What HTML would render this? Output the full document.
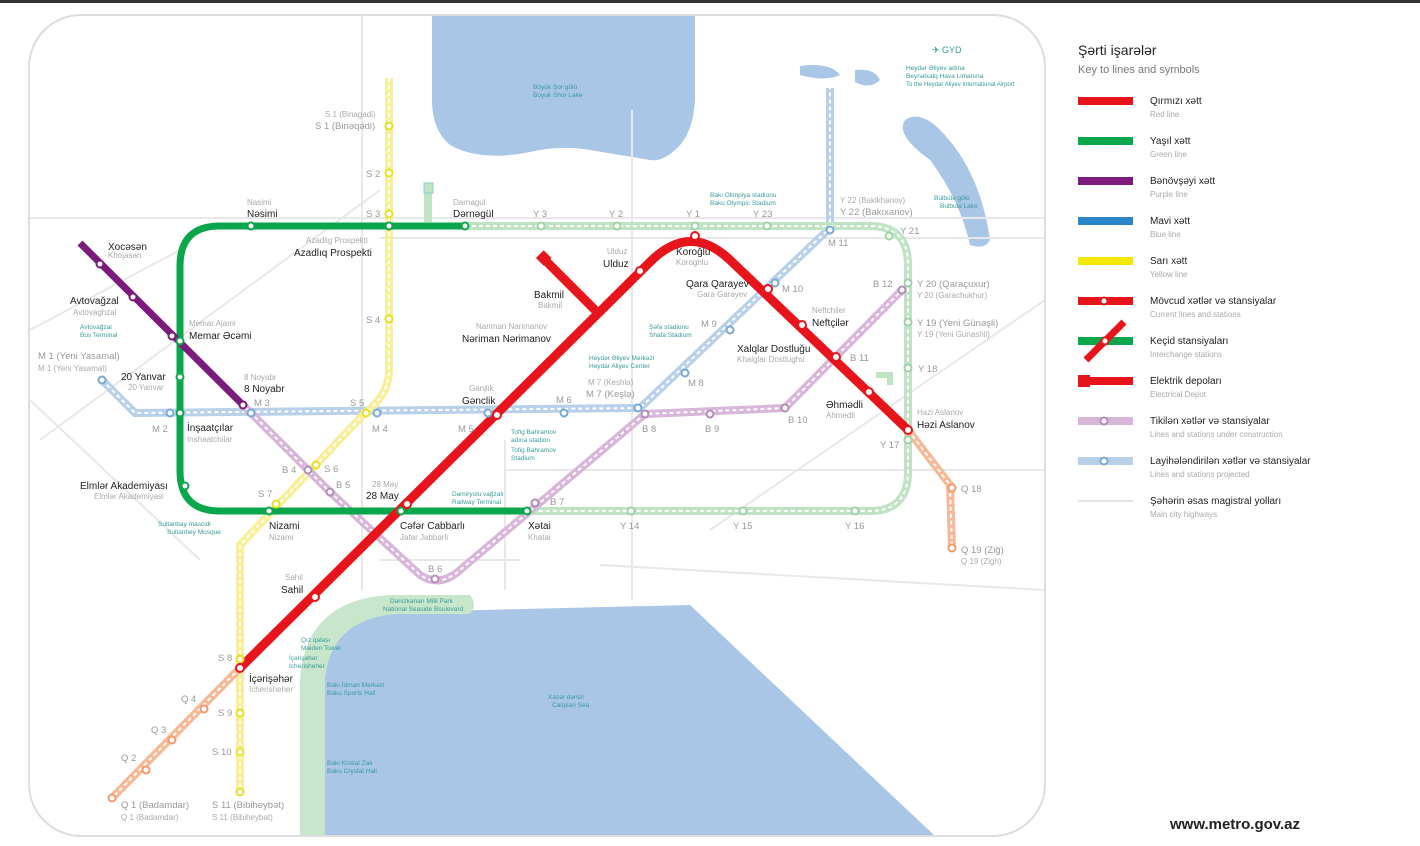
<!DOCTYPE html>
<html><head><meta charset="utf-8"><style>
html,body{margin:0;padding:0;background:#fff;}
svg{display:block;font-family:"Liberation Sans",sans-serif;}
.b{font-size:10px;fill:#222;}
.s{font-size:8px;fill:#aaa;}
.l{font-size:9.5px;fill:#999;}
.t{font-size:6.5px;fill:#3a9a9a;}
</style></head><body>
<svg width="1420" height="846" viewBox="0 0 1420 846" xmlns="http://www.w3.org/2000/svg">
<defs><clipPath id="fr"><rect x="29" y="15" width="1016" height="821" rx="52"/></clipPath></defs>
<rect x="0" y="0" width="1420" height="3" fill="#333"/>
<rect x="29" y="15" width="1016" height="821" rx="52" fill="#fff"/>
<g clip-path="url(#fr)">
<path d="M432 15 L695 15 L695 100 Q693 135 675 150 Q662 162 650 160 Q620 155 590 150 Q560 145 530 152 Q480 162 450 145 Q432 130 432 100 Z" fill="#a9c6e6"/>
<path d="M325 836 L325 660 Q330 615 400 612 L690 605 L935 836 Z" fill="#a9c6e6"/>
<path d="M300 836 L300 680 Q305 600 390 595 L470 595 Q478 605 470 614 L395 614 Q330 620 325 680 L325 836 Z" fill="#c8e6cc"/>
<path d="M905 120 Q920 110 940 130 Q980 170 990 240 Q985 250 970 245 Q960 200 930 160 Q895 135 905 120 Z" fill="#a9c6e6"/>
<path d="M800 66 Q830 62 840 75 Q825 82 800 75 Z M855 70 Q875 68 880 80 Q870 90 855 82 Z" fill="#a9c6e6"/>
</g>
<rect x="29" y="15" width="1016" height="821" rx="52" fill="none" stroke="#ddd" stroke-width="2"/>
<g stroke="#e8e8e8" stroke-width="2" fill="none">
<path d="M362 15 L362 590"/><path d="M632 110 L632 600"/><path d="M30 218 L1045 218"/><path d="M380 238 L1045 238"/>
<path d="M40 440 L380 190"/><path d="M30 400 L200 560"/><path d="M505 440 L505 590"/><path d="M505 470 L1045 470"/>
<path d="M710 530 L1045 300"/><path d="M600 565 L1045 590"/><path d="M380 560 L520 560"/><path d="M30 330 L180 250"/>
</g>
<g fill="none">
<path d="M102 380 L135 413 L640 408 L830 228 L830 88" stroke="#b9d0ea" stroke-width="8"/>
<path d="M102 380 L135 413 L640 408 L830 228 L830 88" stroke="#fff" stroke-width="2" stroke-dasharray="4 3"/>
<path d="M389 78 L389 370 Q389 395 365 413 L240 545 L240 792" stroke="#f7ef9a" stroke-width="8"/>
<path d="M389 78 L389 370 Q389 395 365 413 L240 545 L240 792" stroke="#fff" stroke-width="2" stroke-dasharray="4 3"/>
<path d="M465 226 L870 226 Q908 226 908 265 L908 472 Q908 511 870 511 L527 511" stroke="#bfe3c3" stroke-width="8"/>
<path d="M465 226 L870 226 Q908 226 908 265 L908 472 Q908 511 870 511 L527 511" stroke="#fff" stroke-width="2" stroke-dasharray="4 3"/>
<path d="M428 184 L428 222" stroke="#bfe3c3" stroke-width="8"/>
<path d="M876 375 L890 375 L890 385" stroke="#bfe3c3" stroke-width="6"/>
<path d="M245 407 L330 492 L420 575 Q440 588 460 570 L645 414 L785 408 L902 290" stroke="#d8b6da" stroke-width="8"/>
<path d="M245 407 L330 492 L420 575 Q440 588 460 570 L645 414 L785 408 L902 290" stroke="#fff" stroke-width="2" stroke-dasharray="4 3"/>
<path d="M908 430 L950 485 L952 548 M240 668 L112 798" stroke="#f7b896" stroke-width="8"/>
<path d="M908 430 L950 485 L952 548 M240 668 L112 798" stroke="#fff" stroke-width="2" stroke-dasharray="4 3"/>
<path d="M465 226 L220 226 Q180 226 180 266 L180 471 Q180 511 220 511 L527 511" stroke="#0aa64c" stroke-width="7"/>
<path d="M80 243 L245 407" stroke="#7d1a7d" stroke-width="7"/>
<path d="M240 668 L650 262 Q690 222 730 260 L908 430" stroke="#e8141c" stroke-width="9"/>
<path d="M543 258 L598 313" stroke="#e8141c" stroke-width="9"/>
</g>
<rect x="538" y="252" width="11" height="11" fill="#e8141c" transform="rotate(45 543 258)"/>
<rect x="424" y="183" width="9" height="10" fill="#bfe3c3" stroke="#8cc" />
<g fill="#fff" stroke-width="2">
<g stroke="#0aa64c"><circle cx="251" cy="226" r="3.5"/><circle cx="389" cy="226" r="3.5"/><circle cx="465" cy="226" r="3.5"/><circle cx="180" cy="341" r="3.5"/><circle cx="180" cy="377" r="3.5"/><circle cx="180" cy="413" r="3.5"/><circle cx="185" cy="486" r="3.5"/><circle cx="269" cy="511" r="3.5"/><circle cx="401" cy="511" r="3.5"/><circle cx="527" cy="511" r="3.5"/></g>
<g stroke="#9fd3a6"><circle cx="541" cy="226" r="3.5"/><circle cx="617" cy="226" r="3.5"/><circle cx="695" cy="226" r="3.5"/><circle cx="767" cy="226" r="3.5"/><circle cx="889" cy="236" r="3.5"/><circle cx="908" cy="283" r="3.5"/><circle cx="908" cy="322" r="3.5"/><circle cx="908" cy="368" r="3.5"/><circle cx="908" cy="440" r="3.5"/><circle cx="855" cy="511" r="3.5"/><circle cx="743" cy="511" r="3.5"/><circle cx="631" cy="511" r="3.5"/></g>
<g stroke="#7d1a7d"><circle cx="100" cy="264" r="3.5"/><circle cx="133" cy="297" r="3.5"/><circle cx="172" cy="336" r="3.5"/><circle cx="243" cy="405" r="3.5"/></g>
<g stroke="#b38ab8"><circle cx="308" cy="470" r="3.5"/><circle cx="330" cy="492" r="3.5"/><circle cx="435" cy="579" r="3.5"/><circle cx="535" cy="503" r="3.5"/><circle cx="645" cy="414" r="3.5"/><circle cx="710" cy="414" r="3.5"/><circle cx="785" cy="408" r="3.5"/><circle cx="902" cy="290" r="3.5"/></g>
<g stroke="#7aa8d8"><circle cx="102" cy="380" r="3.5"/><circle cx="170" cy="413" r="3.5"/><circle cx="251" cy="413" r="3.5"/><circle cx="377" cy="413" r="3.5"/><circle cx="488" cy="413" r="3.5"/><circle cx="564" cy="413" r="3.5"/><circle cx="638" cy="408" r="3.5"/><circle cx="685" cy="373" r="3.5"/><circle cx="730" cy="330" r="3.5"/><circle cx="775" cy="283" r="3.5"/><circle cx="830" cy="230" r="3.5"/></g>
<g stroke="#e8e020"><circle cx="389" cy="126" r="3.5"/><circle cx="389" cy="173" r="3.5"/><circle cx="389" cy="214" r="3.5"/><circle cx="389" cy="319" r="3.5"/><circle cx="366" cy="413" r="3.5"/><circle cx="316" cy="465" r="3.5"/><circle cx="276" cy="504" r="3.5"/><circle cx="240" cy="659" r="3.5"/><circle cx="240" cy="713" r="3.5"/><circle cx="240" cy="752" r="3.5"/><circle cx="240" cy="792" r="3.5"/></g>
<g stroke="#e8141c"><circle cx="240" cy="668" r="4"/><circle cx="315" cy="597" r="4"/><circle cx="407" cy="504" r="4"/><circle cx="497" cy="415" r="4"/><circle cx="640" cy="271" r="4"/><circle cx="695" cy="236" r="4"/><circle cx="768" cy="289" r="4"/><circle cx="802" cy="325" r="4"/><circle cx="836" cy="357" r="4"/><circle cx="869" cy="392" r="4"/><circle cx="908" cy="430" r="4"/></g>
<g stroke="#f29a6c"><circle cx="952" cy="488" r="3.5"/><circle cx="952" cy="548" r="3.5"/><circle cx="112" cy="798" r="3.5"/><circle cx="146" cy="770" r="3.5"/><circle cx="172" cy="740" r="3.5"/><circle cx="204" cy="709" r="3.5"/></g>
</g>
<text class="s" x="247" y="205">Nasimi</text><text class="b" x="247" y="217">Nəsimi</text>
<text class="s" x="453" y="205">Darnagul</text><text class="b" x="453" y="217">Dərnəgül</text>
<text class="s" x="306" y="243">Azadlig Prospekti</text><text class="b" x="294" y="256">Azadlıq Prospekti</text>
<text class="b" x="108" y="250">Xocəsən</text><text class="s" x="108" y="258">Khojasan</text>
<text class="b" x="70" y="304">Avtovağzal</text><text class="s" x="73" y="315">Avtovaghzal</text>
<text class="t" x="80" y="329">Avtovağzal</text><text class="t" x="80" y="337">Bus Terminal</text>
<text class="s" x="189" y="326">Memar Ajami</text><text class="b" x="189" y="339">Memar Əcəmi</text>
<text class="l" x="38" y="359">M 1 (Yeni Yasamal)</text><text class="s" x="38" y="371">M 1 (Yeni Yasamal)</text>
<text class="b" x="121" y="380">20 Yanvar</text><text class="s" x="128" y="390">20 Yanvar</text>
<text class="s" x="244" y="380">8 Noyabr</text><text class="b" x="244" y="392">8 Noyabr</text>
<text class="l" x="254" y="406">M 3</text><text class="l" x="152" y="432">M 2</text><text class="l" x="372" y="432">M 4</text>
<text class="l" x="350" y="406">S 5</text><text class="l" x="458" y="432">M 5</text><text class="l" x="556" y="403">M 6</text>
<text class="b" x="187" y="431">İnşaatçılar</text><text class="s" x="187" y="442">Inshaatchilar</text>
<text class="b" x="80" y="489">Elmlər Akademiyası</text><text class="s" x="94" y="499">Elmlər Akademiyasi</text>
<text class="l" x="282" y="473">B 4</text><text class="l" x="324" y="472">S 6</text><text class="l" x="336" y="488">B 5</text><text class="l" x="258" y="497">S 7</text>
<text class="b" x="269" y="529">Nizami</text><text class="s" x="269" y="540">Nizami</text>
<text class="t" x="158" y="526">Sultanbay mascidi</text><text class="t" x="167" y="534">Sultanbey Mosque</text>
<text class="s" x="372" y="487">28 May</text><text class="b" x="366" y="499">28 May</text>
<text class="b" x="400" y="529">Cəfər Cabbarlı</text><text class="s" x="400" y="540">Jafar Jabbarli</text>
<text class="t" x="452" y="496">Dəmiryolu vağzalı</text><text class="t" x="452" y="504">Railway Terminal</text>
<text class="b" x="528" y="529">Xətai</text><text class="s" x="528" y="540">Khatai</text><text class="l" x="550" y="505">B 7</text>
<text class="l" x="428" y="572">B 6</text>
<text class="s" x="469" y="391">Ganjlik</text><text class="b" x="462" y="404">Gənclik</text>
<text class="t" x="511" y="434">Tofig Bahramov</text><text class="t" x="511" y="442">adına stadion</text><text class="t" x="511" y="452">Tofig Bahramov</text><text class="t" x="511" y="460">Stadium</text>
<text class="s" x="476" y="329">Nariman Narimanov</text><text class="b" x="462" y="342">Nəriman Nərimanov</text>
<text class="b" x="534" y="298">Bakmil</text><text class="s" x="538" y="308">Bakmil</text>
<text class="s" x="607" y="254">Ulduz</text><text class="b" x="603" y="267">Ulduz</text>
<text class="b" x="676" y="255">Koroğlu</text><text class="s" x="676" y="265">Koroghlu</text>
<text class="b" x="686" y="287">Qara Qarayev</text><text class="s" x="697" y="297">Gara Garayev</text>
<text class="l" x="782" y="292">M 10</text><text class="l" x="828" y="246">M 11</text>
<text class="s" x="812" y="313">Neftchiler</text><text class="b" x="812" y="326">Neftçilər</text>
<text class="t" x="649" y="329">Şəfa stadionu</text><text class="t" x="649" y="337">Shafa Stadium</text><text class="l" x="701" y="327">M 9</text>
<text class="t" x="589" y="360">Heydər Əliyev Mərkəzi</text><text class="t" x="589" y="368">Heydar Aliyev Center</text>
<text class="s" x="588" y="385">M 7 (Keshla)</text><text class="l" x="586" y="397">M 7 (Keşlə)</text><text class="l" x="688" y="386">M 8</text>
<text class="b" x="737" y="352">Xalqlar Dostluğu</text><text class="s" x="737" y="362">Khalglar Dostlughu</text>
<text class="l" x="850" y="361">B 11</text><text class="b" x="826" y="408">Əhmədli</text><text class="s" x="826" y="418">Ahmedli</text>
<text class="l" x="788" y="423">B 10</text><text class="l" x="705" y="432">B 9</text><text class="l" x="642" y="432">B 8</text>
<text class="s" x="917" y="415">Hazi Aslanov</text><text class="b" x="917" y="428">Həzi Aslanov</text>
<text class="l" x="880" y="448">Y 17</text><text class="l" x="918" y="372">Y 18</text>
<text class="l" x="917" y="326">Y 19 (Yeni Günəşli)</text><text class="s" x="917" y="337">Y 19 (Yeni Gunashli)</text>
<text class="l" x="917" y="287">Y 20 (Qaraçuxur)</text><text class="s" x="917" y="298">Y 20 (Garachukhur)</text>
<text class="l" x="873" y="287">B 12</text><text class="l" x="900" y="234">Y 21</text>
<text class="s" x="840" y="203">Y 22 (Bakikhanov)</text><text class="l" x="840" y="215">Y 22 (Bakıxanov)</text>
<text class="l" x="753" y="217">Y 23</text><text class="l" x="686" y="217">Y 1</text><text class="l" x="609" y="217">Y 2</text><text class="l" x="533" y="217">Y 3</text>
<text class="t" x="710" y="197">Bakı Olimpiya stadionu</text><text class="t" x="710" y="205">Baku Olympic Stadium</text>
<text class="t" x="533" y="89">Böyük Şor gölü</text><text class="t" x="533" y="97">Boyuk Shor Lake</text>
<text class="t" x="934" y="200">Bülbülə gölü</text><text class="t" x="940" y="208">Bulbula Lake</text>
<text x="932" y="53" style="font-size:9px;fill:#3a9a9a">✈ GYD</text>
<text class="t" x="906" y="70">Heydər Əliyev adına</text><text class="t" x="906" y="78">Beynəlxalq Hava Limanına</text><text class="t" x="906" y="86" style="font-size:6px">To the Heydar Aliyev International Airport</text>
<text class="l" x="620" y="529">Y 14</text><text class="l" x="733" y="529">Y 15</text><text class="l" x="845" y="529">Y 16</text>
<text class="l" x="961" y="492">Q 18</text><text class="l" x="961" y="553">Q 19 (Ziğ)</text><text class="s" x="961" y="564">Q 19 (Zigh)</text>
<text class="s" x="325" y="117">S 1 (Binagadi)</text><text class="l" x="315" y="129">S 1 (Binəqədi)</text>
<text class="l" x="366" y="177">S 2</text><text class="l" x="366" y="217">S 3</text><text class="l" x="366" y="323">S 4</text>
<text class="s" x="285" y="580">Sahil</text><text class="b" x="281" y="593">Sahil</text>
<text class="t" x="390" y="603">Dənizkənarı Milli Park</text><text class="t" x="383" y="611">National Seaside Boulevard</text>
<text class="t" x="301" y="642">Qız qalası</text><text class="t" x="301" y="650">Maiden Tower</text>
<text class="t" x="289" y="660">İçərişəhər</text><text class="t" x="289" y="668">Icherisheher</text>
<text class="l" x="218" y="661">S 8</text><text class="b" x="249" y="682">İçərişəhər</text><text class="s" x="249" y="692">Icherisheher</text>
<text class="l" x="181" y="702">Q 4</text><text class="l" x="218" y="716">S 9</text><text class="l" x="151" y="733">Q 3</text>
<text class="l" x="212" y="755">S 10</text><text class="l" x="121" y="761">Q 2</text>
<text class="t" x="327" y="687">Bakı İdman Mərkəzi</text><text class="t" x="327" y="695">Baku Sports Hall</text>
<text class="t" x="327" y="765">Bakı Kristal Zalı</text><text class="t" x="327" y="773">Baku Crystal Hall</text>
<text class="t" x="548" y="699">Xəzər dənizi</text><text class="t" x="552" y="707">Caspian Sea</text>
<text class="l" x="121" y="808">Q 1 (Badamdar)</text><text class="s" x="121" y="820">Q 1 (Badamdar)</text>
<text class="l" x="212" y="808">S 11 (Bibiheybət)</text><text class="s" x="212" y="820">S 11 (Bibiheybat)</text>
<text x="1078" y="55" style="font-size:14px;fill:#222">Şərti işarələr</text>
<text x="1078" y="73" style="font-size:11px;fill:#777">Key to lines and symbols</text>
<g font-size="10" fill="#222">
<rect x="1078" y="97" width="55" height="8" fill="#e8141c"/><text x="1150" y="104">Qırmızı xətt</text><text x="1150" y="117" class="s">Red line</text>
<rect x="1078" y="137" width="55" height="8" fill="#0aa64c"/><text x="1150" y="144">Yaşıl xətt</text><text x="1150" y="157" class="s">Green line</text>
<rect x="1078" y="177" width="55" height="8" fill="#7d1a7d"/><text x="1150" y="184">Bənövşəyi xətt</text><text x="1150" y="197" class="s">Purple line</text>
<rect x="1078" y="217" width="55" height="8" fill="#2a86c8"/><text x="1150" y="224">Mavi xətt</text><text x="1150" y="237" class="s">Blue line</text>
<rect x="1078" y="257" width="55" height="8" fill="#f4e800"/><text x="1150" y="264">Sarı xətt</text><text x="1150" y="277" class="s">Yellow line</text>
<rect x="1078" y="297" width="55" height="8" fill="#e8141c"/><circle cx="1104" cy="301" r="3.5" fill="#fff" stroke="#e8141c" stroke-width="2"/><text x="1150" y="304">Mövcud xətlər və stansiyalar</text><text x="1150" y="317" class="s">Current lines and stations</text>
<rect x="1078" y="337" width="55" height="8" fill="#0aa64c"/><path d="M1086 360 L1124 322" stroke="#e8141c" stroke-width="7"/><circle cx="1105" cy="341" r="3.5" fill="#fff" stroke="#e8141c" stroke-width="2"/><text x="1150" y="344">Keçid stansiyaları</text><text x="1150" y="357" class="s">Interchange stations</text>
<rect x="1078" y="377" width="55" height="8" fill="#e8141c"/><rect x="1078" y="375" width="12" height="12" fill="#e8141c"/><text x="1150" y="384">Elektrik depoları</text><text x="1150" y="397" class="s">Electrical Depot</text>
<rect x="1078" y="417" width="55" height="8" fill="#d8b6da"/><circle cx="1104" cy="421" r="3.5" fill="#fff" stroke="#b38ab8" stroke-width="2"/><text x="1150" y="424">Tikilən xətlər və stansiyalar</text><text x="1150" y="437" class="s">Lines and stations under construction</text>
<rect x="1078" y="457" width="55" height="8" fill="#b9d0ea"/><circle cx="1104" cy="461" r="3.5" fill="#fff" stroke="#7aa8d8" stroke-width="2"/><text x="1150" y="464">Layihələndirilən xətlər və stansiyalar</text><text x="1150" y="477" class="s">Lines and stations projected</text>
<rect x="1078" y="500" width="55" height="2" fill="#e4e4e4"/><text x="1150" y="504">Şəhərin əsas magistral yolları</text><text x="1150" y="517" class="s">Main city highways</text>
</g>
<text x="1170" y="829" style="font-size:15px;font-weight:bold;fill:#222">www.metro.gov.az</text>
</svg>
</body></html>
